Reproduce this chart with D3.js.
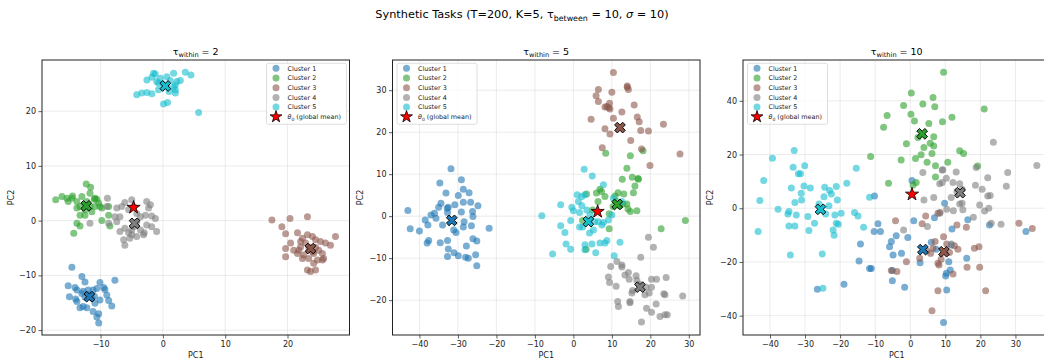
<!DOCTYPE html>
<html>
<head>
<meta charset="utf-8">
<script src="https://cdn.jsdelivr.net/npm/d3@7"></script>
<style>
  body { margin: 0; background: #fff; }
  text { font-family: "DejaVu Sans", sans-serif; }
</style>
</head>
<body>
<div id="chart"></div>
<script>
const clusterNames = ["Cluster 1", "Cluster 2", "Cluster 3", "Cluster 4", "Cluster 5"];
const clusterColors = ["#1f77b4", "#2ca02c", "#8c564b", "#7f7f7f", "#17becf"];
const tauWithin = [2, 5, 10];

// tau_within = 2
const tw2_c1 = [[-14.6,-8.5],[-15.2,-11.9],[-15.0,-13.9],[-14.1,-12.2],[-13.8,-12.7],[-13.0,-10.2],[-12.5,-11.2],[-13.0,-13.3],[-12.5,-14.0],[-13.3,-15.9],[-12.8,-15.7],[-12.0,-12.7],[-11.2,-12.7],[-10.6,-12.4],[-10.1,-11.3],[-9.5,-12.2],[-9.3,-12.6],[-9.0,-13.6],[-8.7,-14.6],[-8.2,-15.6],[-7.7,-10.9],[-10.1,-14.5],[-10.9,-15.1],[-10.3,-17.0],[-10.6,-17.6],[-11.2,-16.6],[-10.3,-18.7],[-12.2,-15.9],[-11.4,-14.2],[-13.8,-14.8],[-14.0,-14.3],[-12.0,-13.5],[-11.0,-13.8],[-12.8,-12.9]];
const tw2_c2 = [[-17.2,3.8],[-16.2,4.4],[-15.2,3.5],[-14.5,4.5],[-14.6,4.1],[-13.8,3.5],[-13.0,4.4],[-12.3,6.7],[-11.6,6.1],[-11.7,5.0],[-10.9,4.1],[-10.6,3.9],[-10.3,3.2],[-10.1,2.6],[-13.3,2.6],[-12.5,2.0],[-11.7,2.6],[-10.9,2.6],[-9.8,2.3],[-8.7,2.6],[-13.3,1.0],[-12.5,1.0],[-11.4,1.6],[-13.8,-0.5],[-13.3,-1.0],[-14.3,-2.3],[-9.8,0.0],[-8.7,1.0],[-8.5,-1.0],[-15.4,4.1],[-12.2,3.5],[-13.8,2.3],[-11.0,3.9]];
const tw2_c3 = [[17.5,0.1],[19.1,-1.1],[19.7,-2.4],[20.4,0.4],[21.6,-2.2],[22.1,-3.8],[20.5,-4.1],[19.7,-5.1],[19.7,-6.6],[21.8,-5.4],[22.4,-3.2],[23.2,0.7],[23.2,-2.6],[24.0,-2.9],[24.5,-3.5],[24.5,-4.9],[24.2,-6.0],[25.0,-5.4],[25.6,-6.0],[25.6,-7.2],[25.8,-6.9],[26.1,-4.1],[26.9,-4.5],[27.7,-2.9],[23.4,-6.9],[24.2,-7.8],[24.5,-9.0],[23.7,-9.3],[23.2,-9.0],[22.4,-6.9],[22.6,-6.3],[23.4,-4.8],[21.6,-6.0],[21.0,-5.4],[22.1,-4.8],[25.3,-3.8],[24.8,-7.2],[22.9,-4.1],[24.0,-5.7]];
const tw2_c4 = [[-8.9,4.1],[-9.0,2.6],[-7.4,2.3],[-6.6,2.6],[-6.1,3.3],[-5.0,3.8],[-5.5,2.0],[-4.7,2.6],[-4.2,1.3],[-2.6,3.5],[-2.0,2.9],[-2.3,2.3],[-3.6,0.7],[-2.8,1.0],[-1.8,0.85],[-1.2,0.4],[-1.0,-2.0],[-1.8,-1.1],[-2.6,-0.8],[-3.6,-1.7],[-3.1,-2.6],[-4.2,-2.9],[-5.0,-2.6],[-5.5,-2.2],[-6.1,-1.4],[-6.9,-2.0],[-6.1,-4.5],[-5.3,-3.2],[-6.3,-3.5],[-7.4,-0.2],[-7.7,0.7],[-8.7,-0.5],[-11.7,-0.5],[-3.0,-2.2],[-4.7,-1.1],[-4.2,-0.2],[-5.0,-1.7],[-6.9,0.7]];
const tw2_c5 = [[-1.5,26.95],[-1.23,26.8],[-2.57,25.7],[-1.77,26.2],[-0.7,25.1],[0.64,26.3],[1.72,26.95],[1.18,25.6],[2.25,25.4],[3.6,27.1],[4.5,26.6],[2.8,25.6],[2.0,24.8],[2.0,23.9],[2.0,23.3],[1.7,24.4],[0.64,24.5],[-0.7,23.9],[-1.77,23.2],[-2.57,23.4],[-3.4,23.3],[-4.2,23.0],[0.1,21.3],[0.75,21.6],[5.74,19.75],[-0.4,26.0],[-1.0,25.4],[0.0,25.0],[1.0,23.6]];
const tw2_centroids = [[-11.8,-13.9],[-12.3,2.7],[23.7,-5.1],[-4.55,-0.5],[0.4,24.6]];
const tw2_theta0 = [-4.7, 2.4];

// tau_within = 5
const tw5_c1 = [[-43.0,1.35],[-42.4,-3.0],[-40.0,-3.5],[-38.5,-0.9],[-38.0,-6.4],[-37.6,-5.8],[-37.8,-2.1],[-37.0,0.3],[-36.1,0.7],[-35.7,-0.5],[-35.0,2.1],[-34.7,7.9],[-34.4,3.1],[-34.6,-6.3],[-34.0,-2.1],[-33.1,5.5],[-32.8,1.9],[-32.7,0.9],[-32.5,2.1],[-31.8,11.3],[-30.8,2.7],[-31.1,-3.3],[-29.9,4.9],[-30.5,-3.9],[-32.7,-5.8],[-32.5,-7.8],[-32.7,-9.6],[-31.0,-8.7],[-29.9,-9.4],[-29.1,8.7],[-28.6,6.4],[-28.6,3.3],[-29.1,1.0],[-28.4,-1.3],[-28.6,-2.6],[-27.1,5.6],[-26.7,3.3],[-26.2,1.1],[-26.1,-0.1],[-26.5,-2.3],[-26.1,-5.4],[-25.1,-5.9],[-27.8,-7.1],[-28.0,-9.8],[-27.3,-10.0],[-25.4,-9.2],[-25.1,-11.8],[-24.8,2.5],[-21.9,-2.9]];
const tw5_c2 = [[8.4,15.0],[14.8,14.4],[18.1,15.6],[13.9,11.4],[16.8,9.0],[15.3,9.3],[12.7,8.8],[16.0,7.2],[15.6,5.6],[6.9,6.4],[6.0,5.5],[3.4,5.3],[8.2,4.7],[11.6,5.6],[13.1,5.3],[12.9,2.9],[13.9,2.9],[14.2,1.7],[14.8,1.1],[16.5,1.3],[9.3,0.6],[9.3,-3.0],[3.3,-7.9],[22.8,-3.0],[29.1,-1.0],[2.4,-1.0],[11.2,3.5],[10.3,2.3],[12.0,2.5],[6.4,3.5],[7.3,5.9],[16.9,8.8],[5.0,1.5],[10.8,4.8]];
const tw5_c3 = [[10.4,34.2],[6.5,30.2],[5.9,28.7],[6.5,27.3],[10.0,29.5],[8.2,26.0],[9.4,26.9],[9.5,25.5],[14.0,31.0],[14.3,30.2],[15.8,26.5],[12.6,24.8],[10.4,23.3],[4.6,23.1],[16.6,23.6],[17.1,22.5],[8.2,20.8],[9.5,19.6],[17.5,20.4],[19.5,20.3],[23.4,21.9],[14.9,18.0],[7.5,16.3],[17.7,16.0],[27.7,14.8],[19.9,12.1],[8.7,26.1],[14.0,30.7],[9.2,25.8]];
const tw5_c4 = [[19.5,-5.0],[20.8,-7.4],[17.5,-9.8],[11.3,-10.8],[9.7,-12.0],[12.6,-11.6],[12.6,-12.1],[14.3,-13.4],[13.4,-14.0],[16.3,-14.2],[9.1,-14.5],[9.4,-15.8],[11.1,-16.7],[14.5,-15.0],[16.5,-15.3],[15.2,-18.3],[15.4,-17.7],[11.5,-20.3],[11.7,-21.5],[14.7,-20.3],[14.7,-20.6],[18.9,-16.9],[20.3,-16.9],[20.3,-15.0],[21.6,-15.0],[24.1,-14.6],[23.5,-18.5],[23.8,-18.7],[21.5,-20.9],[19.0,-21.9],[20.3,-22.9],[22.5,-23.9],[23.8,-23.5],[24.4,-23.5],[17.7,-25.2],[28.4,-19.0],[18.6,-18.7],[19.7,-18.3],[17.3,-16.3]];
const tw5_c5 = [[-8.2,0.1],[-5.4,-9.0],[-3.3,2.7],[-3.3,-2.3],[-2.2,-3.9],[-1.9,-6.6],[-0.7,-1.0],[-0.7,-7.9],[-0.4,2.1],[0.0,1.3],[1.0,5.1],[1.3,3.5],[1.6,0.9],[2.2,4.7],[2.2,2.5],[2.4,-2.6],[3.0,5.1],[3.0,-6.8],[3.0,-8.0],[3.5,1.5],[4.2,-4.0],[4.8,-6.6],[5.2,-3.3],[5.5,-1.3],[5.8,-8.7],[6.5,-1.3],[6.9,-6.4],[7.4,-2.1],[7.8,-1.5],[8.2,-6.4],[8.7,-5.8],[9.1,-0.9],[10.0,0.3],[10.4,4.3],[10.6,-9.4],[12.1,-6.2],[12.6,3.5],[1.6,-2.6],[4.3,0.3],[2.8,11.2],[4.9,9.6],[7.8,7.5]];
const tw5_centroids = [[-31.6,-1.0],[11.4,2.8],[12.1,21.1],[17.3,-16.9],[3.9,-1.3]];
const tw5_theta0 = [6.3, 1.1];

// tau_within = 10
const tw10_c1 = [[-10.2,4.6],[-11.1,-22.4],[-9.2,-5.8],[-10.3,-8.7],[-5.9,-14.3],[-5.4,-12.4],[-4.0,-10.2],[-4.9,-17.4],[-2.5,-16.8],[-0.7,-10.9],[-1.6,-29.4],[1.0,-4.7],[-5.1,-27.0],[-5.1,-23.2],[6.9,-3.5],[9.8,1.9],[11.9,-7.7],[16.4,-4.3],[6.0,-12.7],[11.7,-13.7],[11.0,-19.9],[10.3,-24.2],[10.1,-25.2],[11.4,-23.0],[10.4,-30.4],[16.1,-18.6],[2.8,-20.3],[9.5,-42.5],[22.6,-6.2],[33.0,-8.7],[7.4,-15.3],[-26.5,-30.2],[-18.9,-28.3],[-14.2,-13.3],[-14.6,-19.6],[-11.6,-22.4],[0.5,10.3],[-8.5,-8.7]];
const tw10_c2 = [[9.5,50.6],[0.3,42.9],[6.5,41.2],[-1.9,38.3],[3.6,38.8],[7.0,37.8],[-6.6,34.5],[0.2,35.0],[-7.6,30.2],[1.2,32.5],[5.3,31.6],[9.2,32.2],[11.9,33.9],[21.1,37.0],[2.2,26.3],[6.7,26.6],[-1.1,24.0],[3.9,22.6],[5.7,24.2],[6.7,23.2],[-11.3,19.3],[-2.6,18.0],[1.5,18.5],[3.1,19.9],[6.2,20.4],[4.8,17.1],[14.1,21.4],[15.2,20.4],[10.7,17.1],[7.2,15.8],[19.2,15.7],[7.2,11.6],[-6.2,9.3],[1.7,9.6],[0.8,8.7]];
const tw10_c3 = [[-4.2,-4.7],[3.4,-5.8],[4.4,-2.9],[7.9,-1.9],[8.5,-1.6],[13.3,-6.2],[16.0,-7.1],[7.1,-12.4],[9.5,-10.6],[10.4,-13.3],[13.6,-15.3],[18.3,-14.9],[19.6,-14.3],[4.7,-15.9],[2.7,-18.6],[-1.1,-19.9],[-5.4,-23.2],[-3.8,-23.6],[8.2,-21.1],[7.9,-20.5],[12.2,-24.5],[16.2,-22.0],[19.8,-22.0],[7.9,-30.7],[21.5,-30.7],[6.2,-38.2],[31.0,-5.6],[34.8,-7.5],[6.5,-14.9],[11.2,-16.5],[8.8,-19.0],[5.8,-16.8],[12.6,-14.0]];
const tw10_c4 = [[23.7,24.6],[36.1,15.9],[27.8,13.3],[18.8,15.2],[22.1,11.4],[27.4,8.2],[18.6,8.6],[13.1,13.5],[9.1,14.2],[3.6,13.3],[10.3,11.2],[8.4,9.1],[12.2,9.6],[14.1,9.1],[14.8,7.1],[13.3,6.1],[6.7,4.0],[3.9,3.1],[11.7,4.0],[14.1,1.6],[19.8,1.2],[22.1,4.6],[22.8,4.7],[12.3,-0.9],[10.4,-0.4],[21.2,-1.0],[22.4,0.0],[18.0,-3.4],[23.1,-5.6],[25.9,-6.0],[-1.9,-8.1],[4.9,-6.8],[8.4,-1.9],[11.7,-13.3],[9.3,14.3],[15.0,-0.6],[14.8,1.9],[20.5,7.1],[9.1,9.6]];
const tw10_c5 = [[-43.4,-8.7],[-42.9,2.9],[-41.8,10.3],[-39.3,18.6],[-37.7,-0.4],[-34.9,-2.1],[-34.6,-1.2],[-34.6,-6.6],[-34.2,-17.4],[-33.9,7.5],[-33.4,15.3],[-33.1,21.5],[-32.9,2.1],[-32.5,-2.5],[-32.9,-6.6],[-31.9,12.8],[-31.3,12.8],[-31.1,5.6],[-31.0,3.1],[-30.3,8.3],[-30.1,15.8],[-29.2,-3.1],[-28.9,-8.3],[-28.5,7.5],[-27.3,-5.6],[-26.0,1.6],[-25.1,-17.0],[-24.9,-29.8],[-24.6,4.3],[-24.4,7.8],[-24.1,-2.1],[-23.2,0.9],[-23.0,6.6],[-22.5,5.3],[-22.0,-8.1],[-21.7,-10.1],[-21.5,-2.5],[-21.1,-5.6],[-21.1,8.1],[-20.8,3.1],[-20.5,-6.0],[-19.7,-1.9],[-18.1,9.3],[-15.9,-1.6],[-15.4,14.9],[-14.9,-2.9],[-13.3,-7.1],[-11.6,4.1]];
const tw10_centroids = [[3.6,-15.4],[3.4,27.7],[9.6,-16.2],[14.2,5.8],[-25.6,-0.4]];
const tw10_theta0 = [0.5, 5.2];

const panelClusters = [
  [tw2_c1, tw2_c2, tw2_c3, tw2_c4, tw2_c5],
  [tw5_c1, tw5_c2, tw5_c3, tw5_c4, tw5_c5],
  [tw10_c1, tw10_c2, tw10_c3, tw10_c4, tw10_c5]
];
const panelCentroids = [tw2_centroids, tw5_centroids, tw10_centroids];
const panelTheta0 = [tw2_theta0, tw5_theta0, tw10_theta0];

const xDomains = [[-19.4, 29.95], [-47.0, 32.9], [-47.7, 40.0]];
const yDomains = [[-20.9, 29.35], [-28.3, 37.2], [-47.2, 55.2]];
const xTicks = [[-10, 0, 10, 20], [-40, -30, -20, -10, 0, 10, 20, 30], [-40, -30, -20, -10, 0, 10, 20, 30, 40]];
const yTicks = [[-20, -10, 0, 10, 20], [-20, -10, 0, 10, 20, 30], [-40, -20, 0, 20, 40]];
const legendSide = ["right", "left", "left"];

const width = 1044, height = 362;
const axTop = 60, axBottom = 335, axW = 307.5, axLeft0 = 42, axGap = 350.5;
const fmt = d3.format("d");

const svg = d3.select("#chart").append("svg")
  .attr("width", width).attr("height", height)
  .style("background", "#fff");

// Main title
const title = svg.append("text")
  .attr("x", width / 2).attr("y", 18)
  .attr("text-anchor", "middle")
  .attr("font-size", 11.3).attr("fill", "#000");
title.append("tspan").text("Synthetic Tasks (T=200, K=5, τ");
title.append("tspan").attr("font-size", 7.9).attr("dy", 2.5).text("between");
title.append("tspan").attr("dy", -2.5).text(" = 10, ");
title.append("tspan").attr("font-style", "italic").text("σ");
title.append("tspan").text(" = 10)");

const crossPath = d3.symbol(d3.symbolCross, 72)();
const starPath = d3.symbol(d3.symbolStar, 54)();
const legendStar = d3.symbol(d3.symbolStar, 44)();

panelClusters.forEach((clusters, p) => {
  const left = axLeft0 + p * axGap;
  const innerW = axW, innerH = axBottom - axTop;

  const x = d3.scaleLinear().domain(xDomains[p]).range([0, innerW]);
  const y = d3.scaleLinear().domain(yDomains[p]).range([innerH, 0]);

  const g = svg.append("g").attr("transform", `translate(${left},${axTop})`);

  g.append("clipPath").attr("id", `clip${p}`)
    .append("rect").attr("width", innerW).attr("height", innerH);

  // gridlines
  g.append("g").selectAll("line").data(xTicks[p]).join("line")
    .attr("x1", d => x(d)).attr("x2", d => x(d))
    .attr("y1", 0).attr("y2", innerH)
    .attr("stroke", "#b0b0b0").attr("stroke-opacity", 0.3).attr("stroke-width", 0.8);
  g.append("g").selectAll("line").data(yTicks[p]).join("line")
    .attr("y1", d => y(d)).attr("y2", d => y(d))
    .attr("x1", 0).attr("x2", innerW)
    .attr("stroke", "#b0b0b0").attr("stroke-opacity", 0.3).attr("stroke-width", 0.8);

  const plot = g.append("g").attr("clip-path", `url(#clip${p})`);

  // scatter points
  clusters.forEach((pts, k) => {
    plot.append("g").selectAll("circle").data(pts).join("circle")
      .attr("cx", d => x(d[0])).attr("cy", d => y(d[1]))
      .attr("r", 3.5)
      .attr("fill", clusterColors[k]).attr("fill-opacity", 0.6);
  });

  // centroids
  plot.append("g").selectAll("path").data(panelCentroids[p]).join("path")
    .attr("d", crossPath)
    .attr("transform", d => `translate(${x(d[0])},${y(d[1])}) rotate(45)`)
    .attr("fill", (d, i) => clusterColors[i])
    .attr("stroke", "#000").attr("stroke-width", 0.9);

  // global mean
  const t0 = panelTheta0[p];
  plot.append("path").attr("d", starPath)
    .attr("transform", `translate(${x(t0[0])},${y(t0[1])})`)
    .attr("fill", "#ff0000").attr("stroke", "#000").attr("stroke-width", 0.8);

  // axes
  const xAxis = g.append("g").attr("transform", `translate(0,${innerH})`)
    .call(d3.axisBottom(x).tickValues(xTicks[p]).tickFormat(fmt).tickSize(3.5).tickPadding(2.5));
  const yAxis = g.append("g")
    .call(d3.axisLeft(y).tickValues(yTicks[p]).tickFormat(fmt).tickSize(3.5).tickPadding(2.5));
  [xAxis, yAxis].forEach(a => {
    a.select(".domain").remove();
    a.selectAll("line").attr("stroke", "#333").attr("stroke-width", 0.8);
    a.selectAll("text").attr("font-size", 8).attr("fill", "#222")
      .attr("font-family", "DejaVu Sans, sans-serif");
  });

  // spines
  g.append("rect").attr("width", innerW).attr("height", innerH)
    .attr("fill", "none").attr("stroke", "#222").attr("stroke-width", 1);

  // axis labels
  g.append("text").attr("x", innerW / 2).attr("y", innerH + 23)
    .attr("text-anchor", "middle").attr("font-size", 8).attr("fill", "#222").text("PC1");
  g.append("text").attr("transform", `translate(${p === 0 ? -28 : -30},${innerH / 2}) rotate(-90)`)
    .attr("text-anchor", "middle").attr("font-size", 8).attr("fill", "#222").text("PC2");

  // subplot title
  const st = g.append("text").attr("x", innerW / 2).attr("y", -5)
    .attr("text-anchor", "middle").attr("font-size", 9.5).attr("fill", "#000");
  st.append("tspan").text("τ");
  st.append("tspan").attr("font-size", 6.6).attr("dy", 2.2).text("within");
  st.append("tspan").attr("dy", -2.2).text(` = ${tauWithin[p]}`);

  // legend
  const lw = 80, lh = 61, rowH = 9.7;
  const lx = legendSide[p] === "right" ? innerW - lw - 3 : 4.5;
  const leg = g.append("g").attr("transform", `translate(${lx},3.3)`);
  leg.append("rect").attr("width", lw).attr("height", lh).attr("rx", 2)
    .attr("fill", "#fff").attr("fill-opacity", 0.8)
    .attr("stroke", "#d6d6d6").attr("stroke-width", 0.8);
  clusterNames.forEach((name, k) => {
    const cy = 5 + rowH * k;
    leg.append("circle").attr("cx", 9.5).attr("cy", cy).attr("r", 3.5)
      .attr("fill", clusterColors[k]).attr("fill-opacity", 0.6);
    leg.append("text").attr("x", 21).attr("y", cy).attr("dy", "0.35em")
      .attr("font-size", 6.4).attr("fill", "#222").text(name);
  });
  const sy = 5 + rowH * 5;
  leg.append("path").attr("d", legendStar).attr("transform", `translate(9.5,${sy})`)
    .attr("fill", "#ff0000").attr("stroke", "#000").attr("stroke-width", 0.8);
  const lt = leg.append("text").attr("x", 21).attr("y", sy).attr("dy", "0.35em")
    .attr("font-size", 6.4).attr("fill", "#222");
  lt.append("tspan").attr("font-style", "italic").text("θ");
  lt.append("tspan").attr("font-size", 4.5).attr("dy", 1.5).text("0");
  lt.append("tspan").attr("dy", -1.5).text(" (global mean)");
});
</script>
</body>
</html>
